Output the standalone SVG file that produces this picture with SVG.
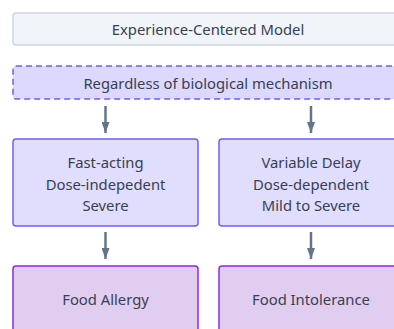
<svg xmlns="http://www.w3.org/2000/svg" width="394" height="329" viewBox="0 0 394 329">
<defs>
<style>
text{font-family:"Noto Sans","Liberation Sans",sans-serif;font-size:14.8px;fill:#374151;text-anchor:middle;dominant-baseline:central}
.top{fill:#f1f5f9;stroke:#cbd5e1;stroke-width:1.5}
.dash{fill:#ddd9fe;stroke:#6d5ef5;stroke-width:1.5;stroke-dasharray:6 4}
.mid{fill:#e0ddfd;stroke:#6f60ee;stroke-width:1.5}
.bot{fill:#e1cdf0;stroke:#8a2be2;stroke-width:1.5}
.arr{stroke:#64748b;stroke-width:2.5;fill:none}
</style>
<marker id="ah" viewBox="0 0 11 8" refX="11" refY="4" markerWidth="11" markerHeight="8" markerUnits="userSpaceOnUse" orient="auto">
<path d="M0,0 L11,4 L0,8 Z" fill="#64748b"/>
</marker>
</defs>
<g id="title"><rect class="top" x="13" y="13" width="390" height="32" rx="3"/><text x="208" y="29">Experience-Centered Model</text></g>
<g id="regardless"><rect class="dash" x="13" y="66" width="390" height="33" rx="3"/><text x="208" y="82.5">Regardless of biological mechanism</text></g>
<g id="fast"><rect class="mid" x="13" y="139" width="185" height="87" rx="3"/><text x="105.5" y="162">Fast-acting</text><text x="105.5" y="183.5">Dose-indepedent</text><text x="105.5" y="205">Severe</text></g>
<g id="variable"><rect class="mid" x="219" y="139" width="185" height="87" rx="3"/><text x="311" y="162">Variable Delay</text><text x="311" y="183.5">Dose-dependent</text><text x="311" y="205">Mild to Severe</text></g>
<g id="allergy"><rect class="bot" x="13" y="266" width="185" height="66" rx="3"/><text x="105.5" y="299">Food Allergy</text></g>
<g id="intolerance"><rect class="bot" x="219" y="266" width="185" height="66" rx="3"/><text x="311" y="299">Food Intolerance</text></g>
<g id="connectors">
<line class="arr" x1="105.5" y1="106" x2="105.5" y2="133" marker-end="url(#ah)"/>
<line class="arr" x1="311" y1="106" x2="311" y2="133" marker-end="url(#ah)"/>
<line class="arr" x1="105.5" y1="232" x2="105.5" y2="259" marker-end="url(#ah)"/>
<line class="arr" x1="311" y1="232" x2="311" y2="259" marker-end="url(#ah)"/>
</g>
</svg>
